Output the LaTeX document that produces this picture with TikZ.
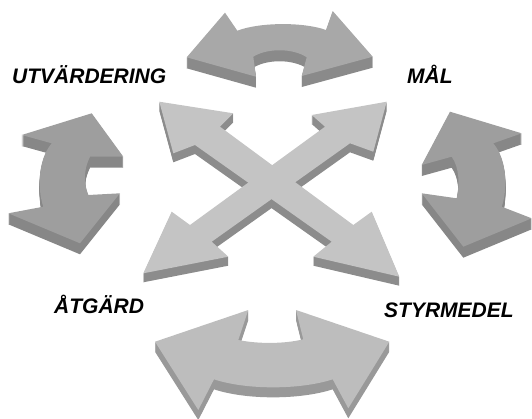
\documentclass[tikz,border=0pt]{standalone}
\usepackage{fontspec}
\setmainfont{Liberation Sans}

% one flat slab: sides (shifted copies) first, then the top face
\newcommand{\slab}[4]{%
  \foreach \d in {#3,...,1}{\fill[#2,yshift=-\d pt] #4;}
  \fill[#1] #4;}

\def\toparrow{(186.7,57.3) -- (225,12.7) -- (237.3,30.7) .. controls (260,22) and (304,22) .. (326,30) -- (332.7,11) -- (372.7,56.7) -- (301.7,76) -- (306.7,57.3) .. controls (293,48) and (267,48) .. (253.3,56.7) -- (256,76.7) -- cycle}
\def\botarrow{(155,341.7) -- (248.3,310) -- (238.3,340) .. controls (258,344) and (284,344) .. (303.3,339.3) -- (296,310) -- (389.3,341.7) -- (348.3,408.3) -- (332.7,379.3) .. controls (300,390) and (246,390) .. (214,379.3) -- (198.3,410) -- cycle}
\def\leftarrow{(21.7,135) -- (91.7,113.3) -- (123.3,156.7) -- (90,156.7) .. controls (83.5,170) and (83.5,183) .. (88.3,195) -- (120,193.3) -- (80,243.3) -- (8.3,213.3) -- (43.3,206.7) .. controls (37.5,190) and (37.5,160) .. (51.7,143.3) -- cycle}
\def\rightarrow{(450,111.7) -- (521.7,133.3) -- (493.3,143.3) .. controls (507.5,160) and (507.5,190) .. (501.7,206.7) -- (531.7,218.3) -- (463.3,246.7) -- (421.7,193.3) -- (456.7,198.3) .. controls (459.6,185) and (459.6,168) .. (451.7,156.7) -- (421.7,165) -- cycle}
\def\nwse{(159.3,101.7) -- (233.3,113.3) -- (220,126.7) -- (353.3,225) -- (371.7,211.7) -- (399.3,276.7) -- (313.3,256.7) -- (331.7,241.7) -- (195,145) -- (173.3,153.3) -- cycle}
\def\nesw{(386.7,101.7) -- (373.3,151.7) -- (350,143.3) -- (211.7,241.7) -- (228.3,256.7) -- (143.3,273.3) -- (171.7,211.7) -- (190,225) -- (325,126.7) -- (311.7,115) -- cycle}

\begin{document}
\begin{tikzpicture}[x=1pt,y=-1pt,
  toptop/.style={fill=black!34}, topside/.style={fill=black!46},
  sidetop/.style={fill=black!38}, sideside/.style={fill=black!47},
  midtop/.style={fill=black!23}, midside/.style={fill=black!45},
  bottop/.style={fill=black!26}, botside/.style={fill=black!40},
  lbl/.style={font=\fontsize{21}{23}\selectfont\bfseries\itshape, inner sep=0pt}]
\useasboundingbox (0,0) rectangle (532,418);

\slab{toptop}{topside}{11}{\toparrow}
\slab{sidetop}{sideside}{11}{\leftarrow}
\slab{sidetop}{sideside}{11}{\rightarrow}
\slab{bottop}{botside}{10}{\botarrow}

% the cross: both sides first, tops last
\foreach \d in {9,...,1}{\fill[midside,yshift=-\d pt] \nwse; \fill[midside,yshift=-\d pt] \nesw;}
\fill[midtop] \nwse;
\fill[midtop] \nesw;

\node[lbl,anchor=base west] (utv) at (12,83) {UTVÄRDERING};
\node[lbl,anchor=base west] (mal) at (407,83) {MÅL};
\node[lbl,anchor=base west] (atg) at (54,313) {ÅTGÄRD};
\node[lbl,anchor=base west] (styr) at (384,317) {STYRMEDEL};
\end{tikzpicture}
\end{document}
